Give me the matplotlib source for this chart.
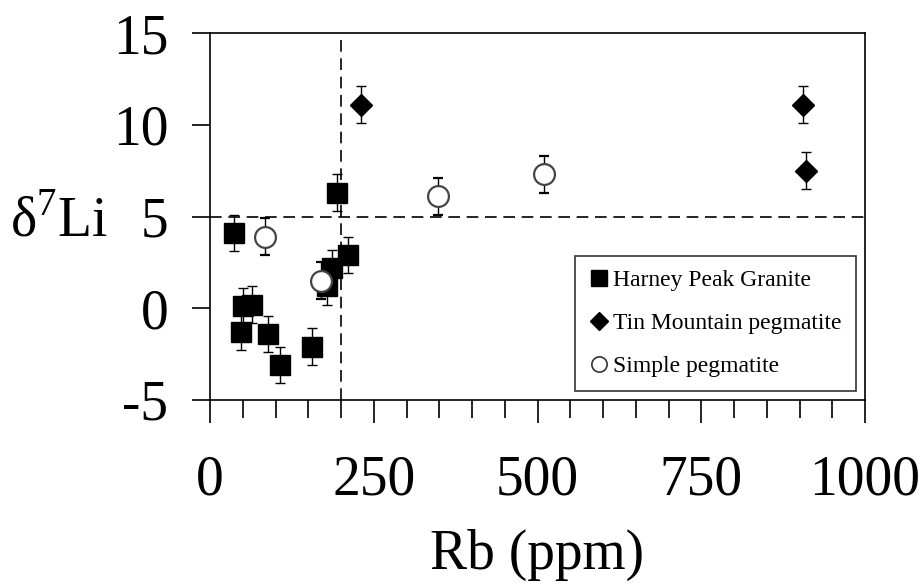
import numpy as np
import matplotlib.pyplot as plt
from matplotlib.lines import Line2D
from matplotlib.ticker import MultipleLocator

plt.rcParams['font.family'] = ['Liberation Serif', 'DejaVu Serif']
plt.rcParams['mathtext.fontset'] = 'custom'
plt.rcParams['mathtext.rm'] = 'Liberation Serif'

# Harney Peak Granite
granite_rb = [37, 51, 64, 48, 89, 107, 155, 194, 211, 186, 178]
granite_d7li = [4.1, 0.1, 0.2, -1.3, -1.4, -3.1, -2.1, 6.3, 2.9, 2.2, 1.2]
granite_err = [1.0] * len(granite_rb)

# Tin Mountain pegmatite
tin_rb = [230, 905, 910]
tin_d7li = [11.1, 11.1, 7.5]
tin_err = [1.0, 1.0, 1.0]

# Simple pegmatite
simple_rb = [84, 170, 348, 510]
simple_d7li = [3.9, 1.5, 6.1, 7.3]
simple_err = [1.0, 1.0, 1.0, 1.0]

fig = plt.figure(figsize=(9.24, 5.85), dpi=100)
ax = fig.add_axes([210/924, 1 - 400/585, 655/924, 367/585])

ax.set_xlim(0, 1000)
ax.set_ylim(-5, 15)

# reference lines
ax.axvline(200, color='black', lw=1.2, ls=(0, (7, 4)), zorder=1)
ax.plot([0, 1.005], [5, 5], transform=ax.get_yaxis_transform(), color='black',
        lw=1.2, ls=(0, (7, 4)), clip_on=False, zorder=1)

eb = dict(ecolor='black', elinewidth=1.0, capsize=3.5, capthick=1.0, ls='none')
ax.errorbar(granite_rb, granite_d7li, yerr=granite_err, fmt='s', ms=15,
            mfc='black', mec='black', zorder=3, **eb)
ax.errorbar(tin_rb, tin_d7li, yerr=tin_err, fmt='D', ms=11,
            mfc='black', mec='black', zorder=3, **eb)
ax.errorbar(simple_rb, simple_d7li, yerr=simple_err, fmt='o', ms=15,
            mfc='white', mec='#444444', mew=1.6, zorder=4, **eb)

for s in ax.spines.values():
    s.set_linewidth(1.2)

ax.xaxis.set_major_locator(MultipleLocator(250))
ax.xaxis.set_minor_locator(MultipleLocator(50))
ax.tick_params(axis='x', which='major', direction='out', length=16.5, width=1.2,
               labelsize=40, pad=23)
ax.tick_params(axis='x', which='minor', direction='out', length=13, width=1.2)
ax.tick_params(axis='y', which='major', direction='out', length=13, width=1.2,
               labelsize=40, pad=17)
ax.set_yticks([-5, 0, 5, 10, 15])
ax.set_yticklabels(['-5', '0', '5', '10', '15'])

ax.set_xlabel('Rb (ppm)', fontsize=40, labelpad=16)
ax.set_ylabel('δ$^{7}$Li', fontsize=40, rotation=0, ha='center', va='center')
ax.yaxis.set_label_coords(-0.23, 0.484)

handles = [
    Line2D([], [], ls='none', marker='s', ms=11, mfc='black', mec='black'),
    Line2D([], [], ls='none', marker='D', ms=9, mfc='black', mec='black'),
    Line2D([], [], ls='none', marker='o', ms=11, mfc='white', mec='#333333', mew=1.2),
]
labels = ['Harney Peak Granite', 'Tin Mountain pegmatite', 'Simple pegmatite']
leg = ax.legend(handles, labels, loc='lower right', bbox_to_anchor=(0.986, 0.0245),
                fontsize=17, frameon=True, fancybox=False, edgecolor='black',
                handlelength=0.8, handletextpad=0.2, labelspacing=0.9,
                borderpad=0.6, borderaxespad=0)
leg.get_frame().set_linewidth(1.2)

fig.savefig('out.png', dpi=100)
